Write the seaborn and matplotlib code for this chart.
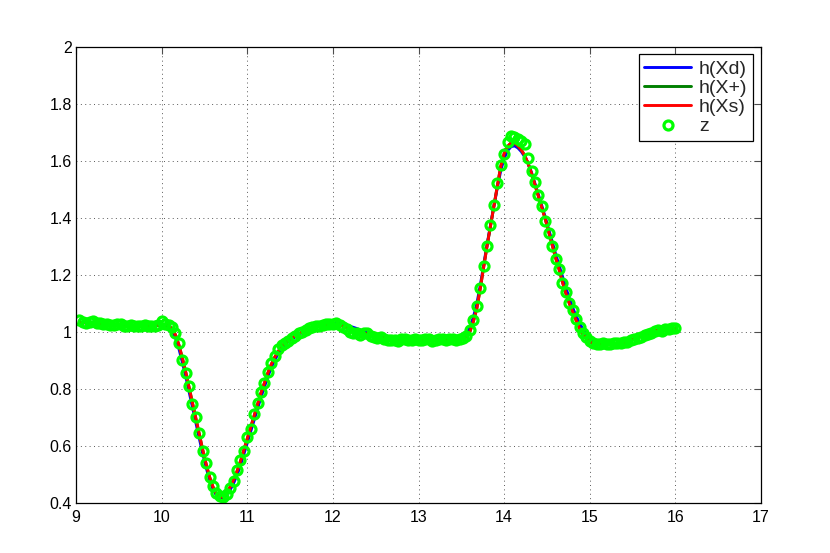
import numpy as np
import pandas as pd
import matplotlib
matplotlib.use('Agg')
import matplotlib.pyplot as plt
import seaborn as sns

# sample times (dt = 0.04)
t = np.linspace(9.04, 16.0, 175)

h_d = [
    1.032, 1.032, 1.031, 1.031, 1.030, 1.029, 1.028, 1.027, 1.026, 1.025,
    1.024, 1.023, 1.022, 1.022, 1.021, 1.021, 1.021, 1.021, 1.021, 1.021,
    1.021, 1.021, 1.022, 1.023, 1.024, 1.024, 1.020, 1.005, 0.980, 0.942,
    0.895, 0.845, 0.790, 0.735, 0.680, 0.625, 0.572, 0.523, 0.480, 0.447,
    0.425, 0.417, 0.418, 0.428, 0.445, 0.468, 0.497, 0.530, 0.570, 0.610,
    0.650, 0.690, 0.730, 0.770, 0.806, 0.842, 0.874, 0.900, 0.922, 0.940,
    0.954, 0.965, 0.974, 0.982, 0.990, 0.997, 1.003, 1.009, 1.014, 1.018,
    1.022, 1.025, 1.027, 1.028, 1.029, 1.029, 1.028, 1.026, 1.023, 1.019,
    1.015, 1.011, 1.006, 1.002, 0.998, 0.994, 0.990, 0.987, 0.984, 0.981,
    0.979, 0.977, 0.976, 0.975, 0.975, 0.974, 0.974, 0.974, 0.974, 0.974,
    0.974, 0.974, 0.974, 0.974, 0.974, 0.974, 0.974, 0.974, 0.974, 0.974,
    0.974, 0.975, 0.978, 0.990, 1.015, 1.050, 1.097, 1.160, 1.232, 1.305,
    1.373, 1.440, 1.505, 1.565, 1.608, 1.635, 1.649, 1.652, 1.645, 1.632,
    1.614, 1.590, 1.558, 1.520, 1.481, 1.442, 1.402, 1.360, 1.317, 1.274,
    1.234, 1.193, 1.155, 1.118, 1.085, 1.055, 1.030, 1.009, 0.992, 0.979,
    0.969, 0.962, 0.958, 0.956, 0.955, 0.955, 0.955, 0.956, 0.958, 0.961,
    0.965, 0.970, 0.975, 0.980, 0.985, 0.990, 0.995, 0.999, 1.003, 1.006,
    1.008, 1.010, 1.011, 1.012, 1.012,
]

h_s = [
    1.032, 1.032, 1.031, 1.031, 1.030, 1.029, 1.028, 1.027, 1.026, 1.025,
    1.024, 1.023, 1.022, 1.022, 1.021, 1.021, 1.021, 1.021, 1.021, 1.021,
    1.021, 1.021, 1.022, 1.023, 1.025, 1.025, 1.022, 1.010, 0.990, 0.955,
    0.910, 0.860, 0.805, 0.750, 0.695, 0.640, 0.585, 0.535, 0.490, 0.455,
    0.430, 0.420, 0.420, 0.435, 0.455, 0.480, 0.510, 0.545, 0.585, 0.625,
    0.665, 0.705, 0.745, 0.785, 0.820, 0.855, 0.885, 0.910, 0.930, 0.948,
    0.960, 0.970, 0.978, 0.985, 0.992, 0.998, 1.003, 1.008, 1.012, 1.016,
    1.019, 1.022, 1.024, 1.025, 1.025, 1.024, 1.022, 1.019, 1.015, 1.011,
    1.007, 1.003, 0.999, 0.995, 0.992, 0.989, 0.986, 0.983, 0.981, 0.979,
    0.977, 0.976, 0.975, 0.974, 0.974, 0.973, 0.973, 0.973, 0.973, 0.973,
    0.973, 0.973, 0.973, 0.973, 0.973, 0.973, 0.973, 0.973, 0.973, 0.973,
    0.973, 0.974, 0.976, 0.982, 1.000, 1.035, 1.080, 1.150, 1.225, 1.300,
    1.370, 1.440, 1.510, 1.580, 1.625, 1.650, 1.662, 1.662, 1.652, 1.638,
    1.618, 1.590, 1.555, 1.515, 1.475, 1.435, 1.395, 1.350, 1.305, 1.260,
    1.220, 1.175, 1.135, 1.100, 1.070, 1.040, 1.012, 0.990, 0.975, 0.965,
    0.958, 0.955, 0.954, 0.954, 0.954, 0.954, 0.955, 0.956, 0.958, 0.961,
    0.965, 0.970, 0.975, 0.980, 0.985, 0.990, 0.995, 0.999, 1.003, 1.006,
    1.008, 1.010, 1.011, 1.012, 1.012,
]

# h(X+) sits entirely under h(Xs) in the picture
h_plus = list(h_s)

z = [
    1.040, 1.035, 1.032, 1.035, 1.036, 1.032, 1.030, 1.028, 1.027, 1.025,
    1.022, 1.026, 1.027, 1.021, 1.020, 1.022, 1.020, 1.021, 1.019, 1.022,
    1.020, 1.021, 1.020, 1.024, 1.038, 1.028, 1.024, 1.015, 0.995, 0.960,
    0.900, 0.855, 0.810, 0.745, 0.700, 0.645, 0.580, 0.540, 0.490, 0.460,
    0.435, 0.423, 0.420, 0.432, 0.450, 0.475, 0.515, 0.550, 0.580, 0.630,
    0.660, 0.710, 0.750, 0.790, 0.820, 0.860, 0.890, 0.915, 0.940, 0.952,
    0.960, 0.968, 0.977, 0.985, 0.995, 1.000, 1.005, 1.012, 1.016, 1.020,
    1.021, 1.023, 1.027, 1.028, 1.026, 1.030, 1.024, 1.015, 1.008, 1.000,
    0.996, 0.994, 0.990, 0.995, 0.994, 0.985, 0.981, 0.978, 0.982, 0.976,
    0.972, 0.970, 0.971, 0.969, 0.973, 0.975, 0.970, 0.972, 0.974, 0.970,
    0.971, 0.975, 0.973, 0.969, 0.972, 0.976, 0.973, 0.970, 0.974, 0.976,
    0.971, 0.973, 0.978, 0.985, 1.005, 1.040, 1.090, 1.155, 1.230, 1.300,
    1.375, 1.445, 1.520, 1.585, 1.625, 1.665, 1.685, 1.684, 1.675, 1.668,
    1.658, 1.610, 1.565, 1.525, 1.480, 1.440, 1.390, 1.345, 1.300, 1.255,
    1.220, 1.170, 1.140, 1.100, 1.075, 1.045, 1.015, 0.995, 0.980, 0.967,
    0.960, 0.958, 0.957, 0.959, 0.957, 0.958, 0.960, 0.959, 0.962, 0.963,
    0.965, 0.972, 0.976, 0.978, 0.982, 0.990, 0.993, 0.996, 1.002, 1.006,
    1.004, 1.008, 1.010, 1.012, 1.012,
]

x_ticks = [9, 10, 11, 12, 13, 14, 15, 16, 17]
y_ticks = [0.4, 0.6, 0.8, 1.0, 1.2, 1.4, 1.6, 1.8, 2.0]
y_tick_labels = ['0.4', '0.6', '0.8', '1', '1.2', '1.4', '1.6', '1.8', '2']

sns.set_style('white')
plt.rcParams['font.family'] = ['Liberation Sans', 'DejaVu Sans']

fig = plt.figure(figsize=(8.3, 5.53), dpi=100)
ax = fig.add_axes([0.0916, 0.091, 0.8253, 0.8246])

sns.lineplot(x=t, y=h_d, color='#0000ff', linewidth=2.1, label='h(Xd)', ax=ax)
sns.lineplot(x=t, y=h_plus, color='#008000', linewidth=2.1, label='h(X+)', ax=ax)
sns.lineplot(x=t, y=h_s, color='#ff0000', linewidth=2.1, label='h(Xs)', ax=ax)
sns.lineplot(x=t, y=z, color='#00ff00', linestyle='', marker='o', markersize=6.5,
             markerfacecolor='none', markeredgecolor='#00ff00',
             markeredgewidth=2.3, label='z', ax=ax)

ax.set_xlim(9, 17)
ax.set_ylim(0.4, 2)
ax.set_xticks(x_ticks)
ax.set_yticks(y_ticks)
ax.set_yticklabels(y_tick_labels)

ax.set_axisbelow(True)
ax.grid(True, linestyle=(0, (1, 3.5)), color='0.35', linewidth=0.7)
for s in ax.spines.values():
    s.set_color('black')
    s.set_linewidth(0.9)
ax.tick_params(direction='in', length=5, width=0.8, color='0.3',
               top=True, right=True, labelsize=11.5, labelcolor='black')
ax.tick_params(axis='x', pad=5)
ax.tick_params(axis='y', pad=3)

leg = ax.legend(loc='upper right', fontsize=14, handlelength=2.4,
                handletextpad=0.4, labelspacing=0.08, borderpad=0.3,
                borderaxespad=0.4, fancybox=False, framealpha=1,
                edgecolor='black')
leg.get_frame().set_linewidth(0.9)

fig.savefig('out.png', dpi=100)
